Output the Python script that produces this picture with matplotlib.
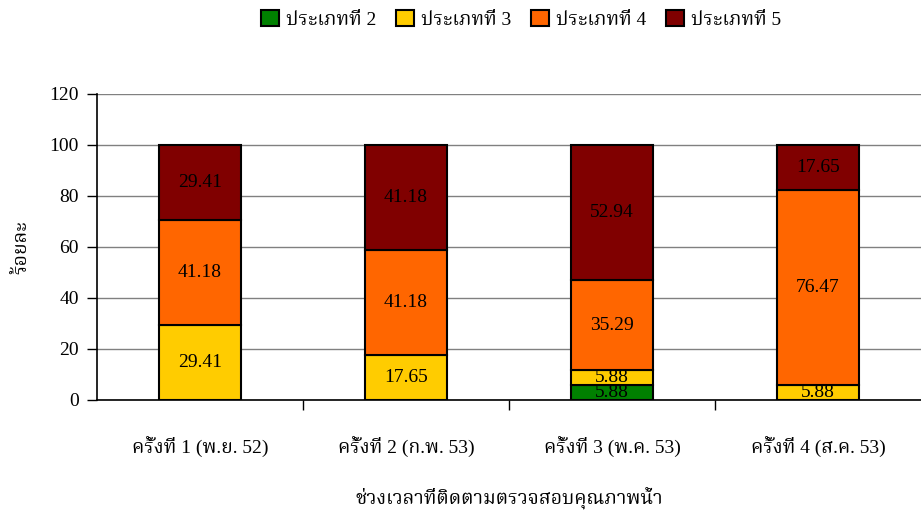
import matplotlib
matplotlib.use("Agg")
import matplotlib.pyplot as plt
import numpy as np

# ข้อมูล
ครั้ง = ['ครั้งที่ 1 (พ.ย. 52)', 'ครั้งที่ 2 (ก.พ. 53)', 'ครั้งที่ 3 (พ.ค. 53)', 'ครั้งที่ 4 (ส.ค. 53)']
ประเภท = ['ประเภทที่ 2', 'ประเภทที่ 3', 'ประเภทที่ 4', 'ประเภทที่ 5']
ป2 = [0, 0, 5.88, 0]
ป3 = [29.41, 17.65, 5.88, 5.88]
ป4 = [41.18, 41.18, 35.29, 76.47]
ป5 = [29.41, 41.18, 52.94, 17.65]
สี = ['#008000', '#FFCC00', '#FF6600', '#800000']

fonts = ['Liberation Serif', 'Noto Serif Thai', 'Noto Sans Thai', 'Noto Sans', 'DejaVu Sans']
plt.rcParams['font.family'] = fonts
plt.rcParams['font.size'] = 14

fig = plt.figure(figsize=(9.21, 5.13), dpi=100)
ax = fig.add_axes([0.1053, 0.2203, 0.8947, 0.5965])

x = np.arange(len(ครั้ง))
bottom = np.zeros(len(ครั้ง))
for vals, c, name in zip([ป2, ป3, ป4, ป5], สี, ประเภท):
    vals = np.array(vals)
    ax.bar(x, vals, 0.4, bottom=bottom, color=c, edgecolor='black', linewidth=1.5, label=name, zorder=3)
    for i, v in enumerate(vals):
        if v > 0:
            ax.text(x[i], bottom[i] + v / 2, '%.2f' % v, ha='center', va='center', fontsize=14, zorder=4)
    bottom += vals

ax.set_xlim(-0.5, 3.5)
ax.set_ylim(0, 120)
ax.set_yticks(range(0, 121, 20))
ax.yaxis.grid(True, color='#808080', linewidth=1)
ax.set_axisbelow(True)
for s in ['top', 'right']:
    ax.spines[s].set_visible(False)
ax.spines['left'].set_linewidth(1.2)
ax.spines['bottom'].set_linewidth(1.2)
ax.tick_params(axis='y', direction='out', length=7, width=1, pad=6)

# ขีดแบ่งกลุ่มบนแกน x
ax.set_xticks([0.5, 1.5, 2.5])
ax.set_xticklabels([])
ax.tick_params(axis='x', which='major', direction='out', length=7, width=1)
ax.set_xticks(x, minor=True)
ax.set_xticklabels(ครั้ง, minor=True)
ax.tick_params(axis='x', which='minor', length=0, pad=27)

ax.set_ylabel('ร้อยละ', labelpad=14)
fig.text(0.553, 0.028, 'ช่วงเวลาที่ติดตามตรวจสอบคุณภาพน้ำ', ha='center', va='center', fontsize=14)

fig.legend(loc='upper center', ncol=4, frameon=False,
           bbox_to_anchor=(0.566, 1.015), handlelength=0.9, handleheight=0.9, handletextpad=0.4, columnspacing=1.0)

fig.savefig('out.png', dpi=100)
